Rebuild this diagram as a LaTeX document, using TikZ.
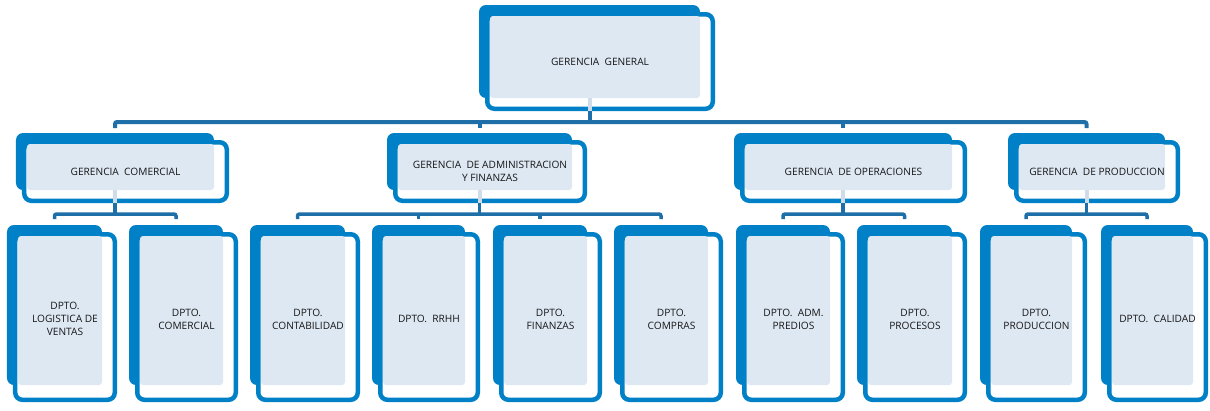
\documentclass[tikz,border=0pt]{standalone}
\usepackage{fontspec}
\setmainfont{Open Sans}
\usepackage{tikz}
\usetikzlibrary{calc}

\definecolor{orgblue}{RGB}{0,128,198}
\definecolor{orgline}{RGB}{30,110,168}
\definecolor{orglight}{RGB}{222,232,243}
\definecolor{orgstub}{RGB}{208,220,234}
\definecolor{orgtext}{RGB}{22,22,22}

\tikzset{
  backbox/.style={fill=orgblue, rounded corners=7bp, inner sep=0pt, outer sep=0pt},
  frontbox/.style={draw=orgblue, fill=white, line width=4.5bp, rounded corners=7bp},
  lightbox/.style={fill=orglight, rounded corners=3bp},
  unittext/.style={text=orgtext, align=center, inner sep=0pt,
    font=\fontsize{10.2}{13}\selectfont},
  conn/.style={draw=orgline, line width=4bp, rounded corners=2bp},
  stub/.style={draw=orgstub, line width=4bp}
}

% name, center x, top y, width, height, extra bottom of the front frame, text
\newcommand{\orgunit}[7]{%
  \node[backbox, minimum width=#4bp, minimum height=#5bp, anchor=north] (#1) at (#2,#3) {};
  \draw[frontbox] ([shift={(8.25,9.25)}]#1.north west) rectangle ([shift={(12.75,#6-2.25)}]#1.south east);
  \fill[lightbox] ([shift={(11,11)}]#1.north west) rectangle (#1.south east);
  \node[unittext] (#1-t) at ($([shift={(6,7)}]#1.north west)!.5!([shift={(15,#6+#6-13)}]#1.south east)$) {#7};
}

\begin{document}
\begin{tikzpicture}[x=1bp, y=-1bp]
  \useasboundingbox (0,0) rectangle (1210,410);

  % top
  \orgunit{gg}{589.5}{5}{221}{93}{13}{GERENCIA~ GENERAL}

  % gerencias
  \orgunit{gc}{115}{133}{198}{57}{13}{GERENCIA~ COMERCIAL}
  \orgunit{ga}{479.5}{133}{185}{57}{13}{GERENCIA~ DE ADMINISTRACION\\Y FINANZAS}
  \orgunit{go}{843}{133}{218}{57}{13}{GERENCIA~ DE OPERACIONES}
  \orgunit{gp}{1086.5}{133}{157}{57}{13}{GERENCIA~ DE PRODUCCION}

  % departamentos
  \orgunit{d1}{54.5}{225}{95}{160}{17}{DPTO.\\LOGISTICA DE\\VENTAS}
  \orgunit{d2}{176}{225}{94}{160}{17}{DPTO.\\COMERCIAL}
  \orgunit{d3}{297.5}{225}{95}{160}{17}{DPTO.\\CONTABILIDAD}
  \orgunit{d4}{418.5}{225}{93}{160}{17}{DPTO.~ RRHH}
  \orgunit{d5}{540}{225}{94}{160}{17}{DPTO.\\FINANZAS}
  \orgunit{d6}{661}{225}{94}{160}{17}{DPTO.\\COMPRAS}
  \orgunit{d7}{783}{225}{94}{160}{17}{DPTO.~ ADM.\\PREDIOS}
  \orgunit{d8}{904.5}{225}{95}{160}{17}{DPTO.\\PROCESOS}
  \orgunit{d9}{1026}{225}{92}{160}{17}{DPTO.\\PRODUCCION}
  \orgunit{d10}{1147}{225}{92}{160}{17}{DPTO.~ CALIDAD}

  % first level bus
  \draw[stub] (gg.south) -- ++(0,13);
  \draw[conn] ([shift={(0,13)}]gg.south) -- ++(0,11);
  \draw[conn] ([shift={(0,-5)}]gc.north) -- ++(0,-6) -| ([shift={(0,-5)}]gp.north);
  \draw[conn] ([shift={(0,-5)}]ga.north) -- ++(0,-6);
  \draw[conn] ([shift={(0,-5)}]go.north) -- ++(0,-6);

  % second level brackets
  \foreach \boss/\first/\last in {gc/d1/d2, ga/d3/d6, go/d7/d8, gp/d9/d10} {
    \draw[stub] (\boss.south) -- ++(0,13);
    \draw[conn, line width=3.5bp] ([shift={(0,13)}]\boss.south) -- ++(0,11);
    \draw[conn, line width=3.5bp] ([shift={(0,-6)}]\first.north) -- ++(0,-5) -| ([shift={(0,-6)}]\last.north);
  }
  \draw[conn, line width=3.5bp] ([shift={(0,-6)}]d4.north) -- ++(0,-5);
  \draw[conn, line width=3.5bp] ([shift={(0,-6)}]d5.north) -- ++(0,-5);
\end{tikzpicture}
\end{document}
